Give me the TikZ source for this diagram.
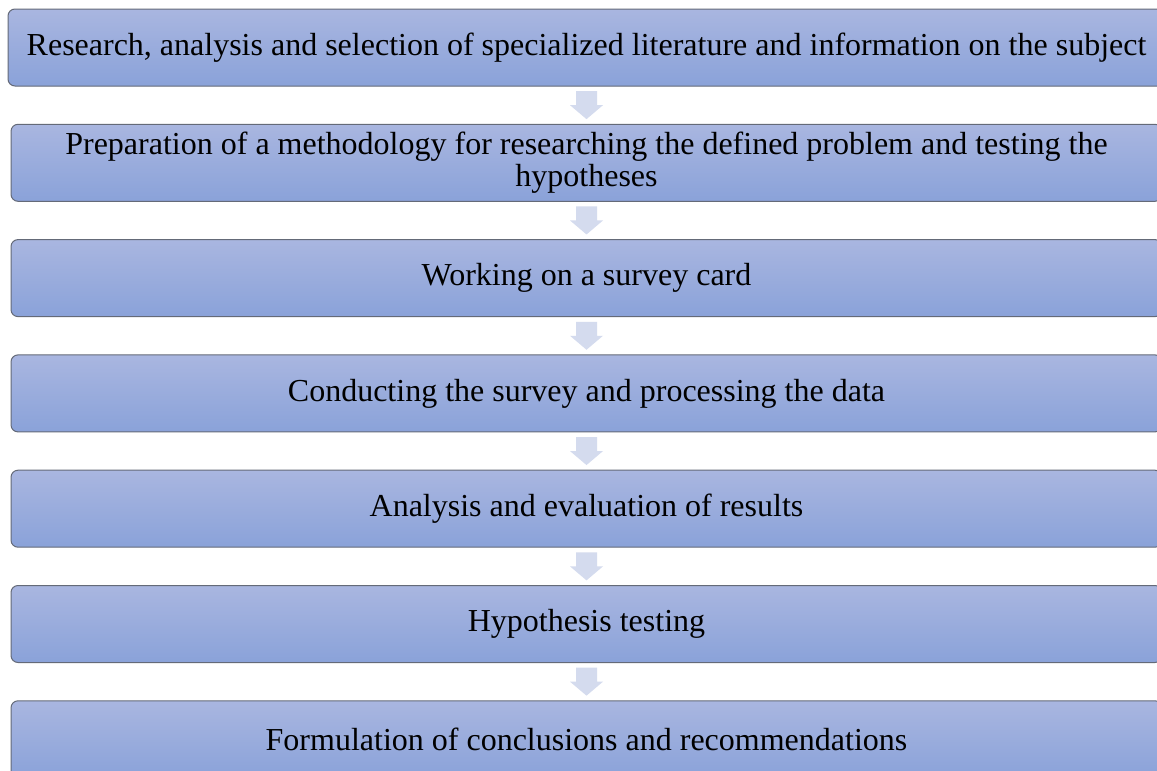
\documentclass[tikz,border=0pt]{standalone}
\usepackage{fontspec}
\setmainfont{Liberation Serif}
\usetikzlibrary{calc}
\definecolor{boxtop}{HTML}{A9B6E0}
\definecolor{boxbottom}{HTML}{8AA2D9}
\definecolor{boxline}{HTML}{646A78}
\definecolor{arrowfill}{HTML}{D4DBEE}
\tikzset{
  stepbox/.style={rectangle, rounded corners=7pt, draw=boxline, line width=1pt,
    top color=boxtop, bottom color=boxbottom,
    minimum width=1151pt, minimum height=77pt, inner sep=0pt,
    align=center, font=\fontsize{32}{32.5}\selectfont, text=black},
  widebox/.style={stepbox, minimum width=1157pt},
  downarrow/.style={fill=arrowfill, draw=none}
}
\begin{document}
\begin{tikzpicture}[x=1pt,y=-1pt]
\clip (0,0) rectangle (1157,771);
\fill[white] (0,0) rectangle (1157,771);

\node[widebox] (b1) at (586.5,47.5) {Research, analysis and selection of specialized literature and information on the subject};
\node[stepbox] (b2) at (586.5,162.8) {Preparation of a methodology for researching the defined problem and testing the\\hypotheses};
\node[stepbox] (b3) at (586.5,278.1) {Working on a survey card};
\node[stepbox] (b4) at (586.5,393.4) {Conducting the survey and processing the data};
\node[stepbox] (b5) at (586.5,508.7) {Analysis and evaluation of results};
\node[stepbox] (b6) at (586.5,624.0) {Hypothesis testing};
\node[stepbox] (b7) at (586.5,739.3) {Formulation of conclusions and recommendations};

% block arrows centred in each gap between consecutive steps
\foreach \a/\b in {b1/b2,b2/b3,b3/b4,b4/b5,b5/b6,b6/b7}{
  \coordinate (m-\a) at ($(\a.south)!0.5!(\b.north)$);
  \fill[downarrow] ([shift={(-10.5,-14)}]m-\a) -- ([shift={(10.5,-14)}]m-\a)
    -- ([shift={(10.5,0)}]m-\a) -- ([shift={(16.5,0)}]m-\a)
    -- ([shift={(0,14)}]m-\a) -- ([shift={(-16.5,0)}]m-\a)
    -- ([shift={(-10.5,0)}]m-\a) -- cycle;
}
\end{tikzpicture}
\end{document}
